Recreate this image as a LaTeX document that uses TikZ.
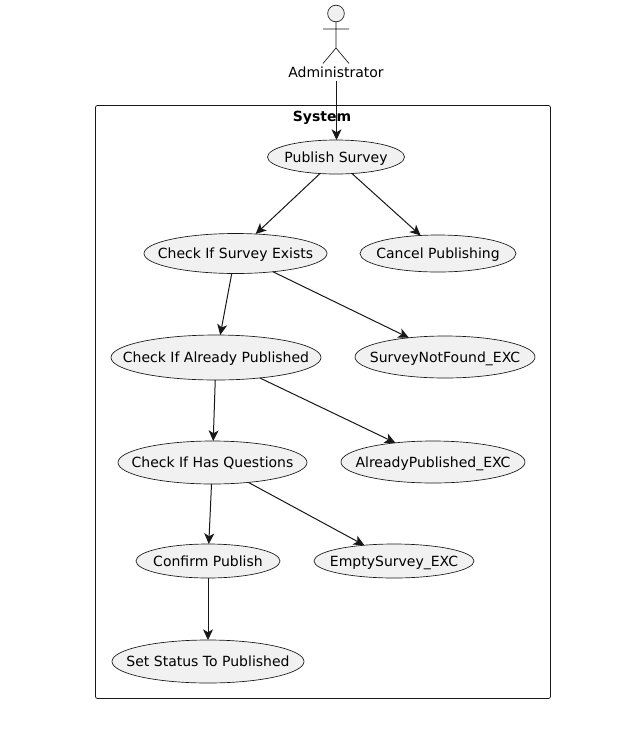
\documentclass[tikz,border=0pt]{standalone}
\usepackage{fontspec}
\setmainfont{DejaVu Sans}
\usetikzlibrary{shapes.geometric,arrows.meta}
\newcommand{\T}[1]{\makebox[0pt]{\raisebox{-3.75pt}[0pt][0pt]{#1}}}
\definecolor{ucfill}{HTML}{F1F1F1}
\definecolor{ink}{HTML}{181818}
\tikzset{x=0.75pt,y=-0.75pt,
 uc/.style={draw=ink,line width=0.5pt,fill=ucfill,ellipse,inner sep=0pt,outer sep=0pt,font=\fontsize{10.5pt}{12pt}\selectfont},
 conn/.style={draw=ink,line width=0.75pt,-{Stealth[length=8pt,width=7.5pt,inset=2.2pt]}},
 lbl/.style={inner sep=0pt,font=\fontsize{10.5pt}{12pt}\selectfont}}
\begin{document}
\begin{tikzpicture}
\useasboundingbox[fill=white] (0,0) rectangle (636,740);
\draw[draw=ink,line width=0.6pt,rounded corners=1.5pt] (95.5,105.5) rectangle (550.5,698.5);
\node[lbl,font=\fontsize{10.5pt}{12pt}\selectfont\bfseries] (sys) at (322,116) {\T{System}};
\node[draw=ink,line width=0.5pt,fill=ucfill,circle,minimum size=12.5pt,inner sep=0pt,outer sep=0pt] (head) at (336,13.5) {};
\coordinate (hip) at (336,48);
\coordinate (armL) at (323,29);
\coordinate (armR) at (349,29);
\coordinate (legL) at (323,63.5);
\coordinate (legR) at (349,63.5);
\coordinate (start) at (336.5,81);
\draw[draw=ink,line width=0.5pt] (head.south) -- (hip) (armL) -- (armR) (legL) -- (hip) -- (legR);
\node[lbl] (admin) at (336,72) {\T{Administrator}};
\node[uc,minimum width=102.75pt,minimum height=25.5pt] (a) at (336,157) {\T{Publish Survey}};
\node[uc,minimum width=137.25pt,minimum height=30pt] (b) at (235.5,253.5) {\T{Check If Survey Exists}};
\node[uc,minimum width=117pt,minimum height=27.75pt] (c) at (438,253.5) {\T{Cancel Publishing}};
\node[uc,minimum width=157.5pt,minimum height=33.75pt] (d) at (216,357.5) {\T{Check If Already Published}};
\node[uc,minimum width=135pt,minimum height=31.5pt] (e) at (445,357) {\T{SurveyNotFound\_EXC}};
\node[uc,minimum width=141.75pt,minimum height=32.25pt] (f) at (212.5,462.5) {\T{Check If Has Questions}};
\node[uc,minimum width=138pt,minimum height=31.5pt] (g) at (433,462) {\T{AlreadyPublished\_EXC}};
\node[uc,minimum width=108pt,minimum height=25.5pt] (h) at (208,561) {\T{Confirm Publish}};
\node[uc,minimum width=120pt,minimum height=25.5pt] (i) at (394,561) {\T{EmptySurvey\_EXC}};
\node[uc,minimum width=144pt,minimum height=32.25pt] (j) at (208,661.5) {\T{Set Status To Published}};
\draw[conn] (start) -- (start |- a.north);
\draw[conn] (a.-134) -- (b.44);
\draw[conn] (a.-46) -- (c.134.5);
\draw[conn] (b) -- (d);
\draw[conn] (b.-26.4) -- (e.152.4);
\draw[conn] (d) -- (f);
\draw[conn] (d.-25.5) -- (g.153.8);
\draw[conn] (f) -- (h);
\draw[conn] (f.-29) -- (i.152.2);
\draw[conn] (h) -- (j);
\end{tikzpicture}
\end{document}
